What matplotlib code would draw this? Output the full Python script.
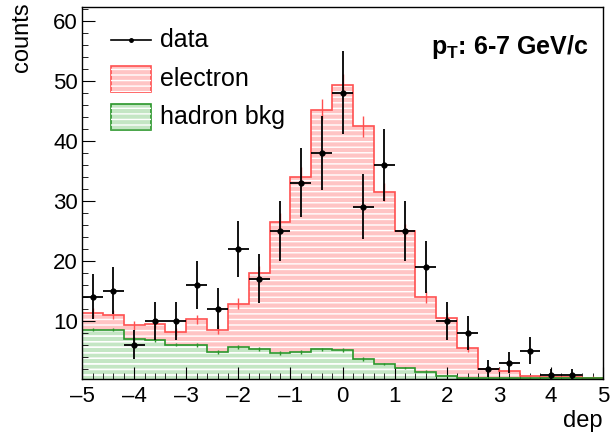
import numpy as np
import matplotlib
matplotlib.use("Agg")
import matplotlib.pyplot as plt
from matplotlib.patches import Rectangle
from matplotlib.lines import Line2D

plt.rcParams['font.family'] = ['Liberation Sans', 'DejaVu Sans']
plt.rcParams['mathtext.fontset'] = 'custom'
plt.rcParams['mathtext.rm'] = 'Liberation Sans'
plt.rcParams['mathtext.bf'] = 'Liberation Sans:bold'
plt.rcParams['hatch.linewidth'] = 1.0

# bin edges of dep: -5 .. 5 in steps of 0.4
edges = np.linspace(-5, 5, 26)
centers = 0.5 * (edges[:-1] + edges[1:])

data_counts = [14, 15, 6, 10, 10, 16, 12, 22, 17, 25, 33, 38, 48,
               29, 36, 25, 19, 10, 8, 2, 3, 5, 1, 1, 0]
electron = [11.3, 11.0, 9.2, 9.5, 8.1, 10.2, 8.5, 12.8, 18.0, 26.4, 34.0, 45.2, 49.3,
            42.4, 31.4, 24.9, 14.0, 10.4, 5.4, 1.95, 1.55, 0.7, 0.6, 0.55, 0.5]
electron_err = [0.8, 0.8, 0.7, 0.7, 0.7, 0.8, 0.7, 0.9, 1.2, 1.5, 1.6, 1.8, 1.8,
                1.7, 1.5, 1.3, 1.0, 0.8, 0.6, 0.3, 0.3, 0.2, 0.2, 0.2, 0.2]
hadron = [8.5, 8.5, 6.9, 6.7, 6.0, 5.9, 4.8, 5.6, 5.3, 4.6, 4.8, 5.2, 5.1,
          3.6, 2.8, 2.1, 1.5, 0.8, 0.45, 0.4, 0.4, 0.4, 0.4, 0.4, 0.4]
hadron_err = [0.3, 0.3, 0.3, 0.3, 0.3, 0.3, 0.3, 0.3, 0.3, 0.3, 0.3, 0.3, 0.3,
              0.3, 0.2, 0.2, 0.2, 0.1, 0.1, 0.1, 0.1, 0.1, 0.1, 0.1, 0.1]

ymin, ymax = 0.3, 62.3


def draw_hist(ax, values, errs, fill, line):
    vals = np.array(values)
    ax.stairs(vals, edges, baseline=ymin, fill=True, facecolor=fill,
              edgecolor='none', zorder=1)
    ax.stairs(vals, edges, baseline=ymin, fill=True, facecolor='none',
              edgecolor='white', hatch='---', linewidth=0, zorder=1.1)
    ax.stairs(vals, edges, baseline=None, color=line, linewidth=1.2, zorder=2)
    ax.errorbar(centers, vals, yerr=errs, fmt='none', ecolor=line,
                elinewidth=1, capsize=0, zorder=2)


fig = plt.figure(figsize=(6.15, 4.34), dpi=100)
ax = fig.add_axes([0.1335, 0.127, 0.847, 0.857])

draw_hist(ax, electron, electron_err, '#ffc4c4', '#ff5050')
draw_hist(ax, hadron, hadron_err, '#c4e6c4', '#2a962a')

d = np.array(data_counts, dtype=float)
mask = d > 0
ax.errorbar(centers[mask], d[mask], xerr=0.2, yerr=np.sqrt(d[mask]), fmt='o',
            color='black', markersize=3.5, elinewidth=1.3, capsize=0, zorder=3)

ax.set_xlim(-5, 5)
ax.set_ylim(ymin, ymax)
ax.set_xticks(range(-5, 6))
ax.set_xticklabels(['\u20135', '\u20134', '\u20133', '\u20132', '\u20131',
                    '0', '1', '2', '3', '4', '5'])
ax.set_xticks(np.arange(-5, 5.01, 0.2), minor=True)
ax.set_yticks(range(10, 61, 10))
ax.set_yticks(range(2, 63, 2), minor=True)
ax.tick_params(which='both', direction='in', top=False, right=False,
               labelsize=16)
ax.tick_params(which='major', length=9)
ax.tick_params(which='minor', length=4.5)
ax.tick_params(axis='x', pad=5)
ax.tick_params(axis='y', pad=3)
for s in ax.spines.values():
    s.set_linewidth(1)

ax.set_xlabel('dep', fontsize=17)
ax.xaxis.set_label_coords(0.962, -0.085)
ax.set_ylabel('counts', fontsize=17)
ax.yaxis.set_label_coords(-0.095, 0.92)

ax.text(0.972, 0.893, r'$\mathbf{p}_{\mathbf{T}}$: 6-7 GeV/c',
        transform=ax.transAxes, ha='right', va='center', fontsize=18,
        fontweight='bold')

# legend drawn by hand in axes coordinates
lx0, lx1 = 0.056, 0.132
tx = 0.150
ax.add_line(Line2D([lx0, lx1], [0.911, 0.911], transform=ax.transAxes,
                   color='black', linewidth=1.2, zorder=4))
ax.plot([(lx0 + lx1) / 2], [0.911], 'o', color='black', markersize=2.5,
        transform=ax.transAxes, zorder=4)
ax.text(tx, 0.911, 'data', transform=ax.transAxes, va='center', fontsize=18)
for yc, fc, lc, lab in [(0.806, '#ffc4c4', '#ff5050', 'electron'),
                        (0.703, '#c4e6c4', '#2a962a', 'hadron bkg')]:
    ax.add_patch(Rectangle((lx0, yc - 0.035), lx1 - lx0, 0.07,
                           transform=ax.transAxes, facecolor=fc,
                           edgecolor=lc, linewidth=1.2, zorder=4))
    ax.add_patch(Rectangle((lx0, yc - 0.035), lx1 - lx0, 0.07,
                           transform=ax.transAxes, facecolor='none',
                           edgecolor='white', hatch='---', linewidth=0, zorder=4))
    ax.text(tx, yc, lab, transform=ax.transAxes, va='center', fontsize=18)

fig.savefig('out.png', dpi=100)
